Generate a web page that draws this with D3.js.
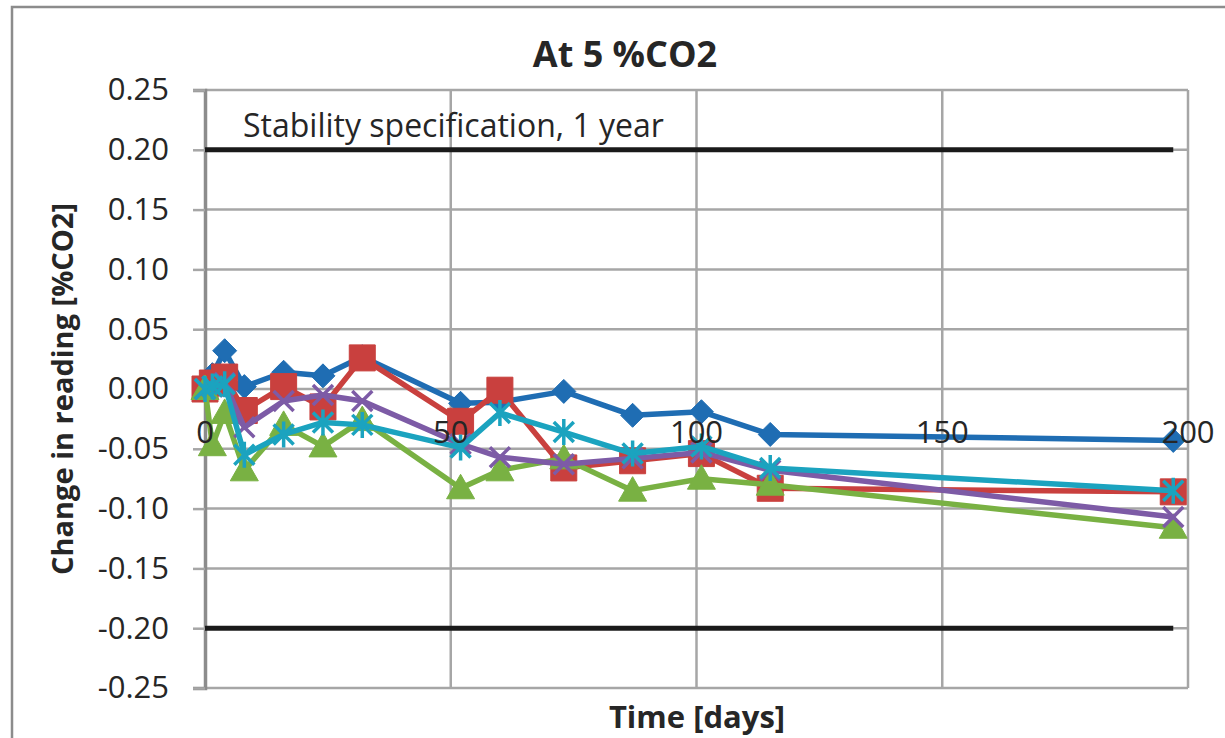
<!DOCTYPE html>
<html lang="en">
<head>
<meta charset="utf-8">
<title>At 5 %CO2</title>
<script src="https://cdn.jsdelivr.net/npm/d3@7"></script>
<style>
  body { margin: 0; background: #fff; }
  text { font-family: "Open Sans", sans-serif; fill: #262626; }
</style>
</head>
<body>
<script>
// data
var days   = [0, 1.5, 4, 8, 16, 24, 32, 52, 60, 73, 87, 101, 115, 197];
var blue   = [0, 0.012, 0.032, 0.002, 0.014, 0.011, 0.027, -0.012, -0.011, -0.002, -0.022, -0.019, -0.038, -0.043];
var red    = [0, 0.005, 0.010, -0.018, 0.002, -0.015, 0.026, -0.027, -0.001, -0.066, -0.060, -0.054, -0.083, -0.086];
var green  = [0, -0.047, -0.020, -0.068, -0.030, -0.048, -0.026, -0.083, -0.068, -0.058, -0.085, -0.075, -0.080, -0.116];
var purple = [0, 0.002, 0.005, -0.032, -0.010, -0.005, -0.010, -0.046, -0.057, -0.063, -0.058, -0.053, -0.068, -0.107];
var aqua   = [0, 0.002, 0.004, -0.055, -0.038, -0.028, -0.030, -0.049, -0.020, -0.036, -0.054, -0.048, -0.066, -0.085];
var specLimits = [0.2, -0.2];
var xTicks = [0, 50, 100, 150, 200];
var yTicks = [0.25, 0.20, 0.15, 0.10, 0.05, 0.00, -0.05, -0.10, -0.15, -0.20, -0.25];

var w = 1225, h = 738;
var svg = d3.select("body").append("svg").attr("width", w).attr("height", h);

// chart border
svg.append("rect").attr("x", 12).attr("y", 7).attr("width", 1300).attr("height", 800)
   .attr("fill", "none").attr("stroke", "#8c8c8c").attr("stroke-width", 2.5);

var x = d3.scaleLinear().domain([0, 200]).range([205, 1188]);
var y = d3.scaleLinear().domain([-0.25, 0.25]).range([688, 90]);

// gridlines
svg.selectAll("line.hgrid").data(yTicks).enter().append("line")
   .attr("x1", x(0)).attr("x2", x(200))
   .attr("y1", function(d){return y(d);}).attr("y2", function(d){return y(d);})
   .attr("stroke", "#a6a6a6").attr("stroke-width", 2.5);
svg.selectAll("line.vgrid").data(xTicks.slice(1)).enter().append("line")
   .attr("x1", function(d){return x(d);}).attr("x2", function(d){return x(d);})
   .attr("y1", y(0.25)).attr("y2", y(-0.25))
   .attr("stroke", "#a6a6a6").attr("stroke-width", 2.5);

// y axis (plain hyphen minus like the original)
var fmt = d3.format(".2f");
var yAxis = d3.axisLeft(y).tickValues(yTicks).tickSize(12).tickPadding(24)
   .tickFormat(function(d){ return fmt(d).replace("\u2212", "-"); });
var gy = svg.append("g").attr("transform", "translate(" + x(0) + ",0)").call(yAxis);
gy.select(".domain").attr("stroke", "#8c8c8c").attr("stroke-width", 3.5);
gy.selectAll(".tick line").attr("stroke", "#a6a6a6").attr("stroke-width", 2.5);
gy.selectAll(".tick text").style("font-size", "31px").style("font-family", "Open Sans").attr("fill", "#262626");

// specification lines
specLimits.forEach(function(v){
  svg.append("line").attr("x1", x(days[0])).attr("x2", x(days[days.length-1]))
     .attr("y1", y(v)).attr("y2", y(v))
     .attr("stroke", "#1a1a1a").attr("stroke-width", 5);
});
svg.append("text").attr("x", 243).attr("y", 137).style("font-size", "32px")
   .text("Stability specification, 1 year");

// markers
function diamond(s){ return "M0," + (-s) + "L" + s + ",0L0," + s + "L" + (-s) + ",0Z"; }
function square(s){ return "M" + (-s) + "," + (-s) + "h" + 2*s + "v" + 2*s + "h" + (-2*s) + "Z"; }
function triangle(s){ return "M0," + (-s) + "L" + s + "," + (s*0.75) + "L" + (-s) + "," + (s*0.75) + "Z"; }
function cross(s){ return "M" + (-s) + "," + (-s) + "L" + s + "," + s + "M" + s + "," + (-s) + "L" + (-s) + "," + s; }
function star(s){ return cross(s) + "M0," + (-s*1.3) + "L0," + (s*1.3); }

var series = [
  {vals: blue,   color: "#1f6db3", marker: diamond(12),  filled: true},
  {vals: red,    color: "#c9403e", marker: square(13),   filled: true},
  {vals: green,  color: "#79b143", marker: triangle(14), filled: true},
  {vals: purple, color: "#7d5ba6", marker: cross(10),    filled: false},
  {vals: aqua,   color: "#1ba3bf", marker: star(10),     filled: false}
];

var line = d3.line().x(function(d){return x(d[0]);}).y(function(d){return y(d[1]);});

series.forEach(function(s){
  var pts = days.map(function(d, i){ return [d, s.vals[i]]; });
  svg.append("path").datum(pts).attr("d", line)
     .attr("fill", "none").attr("stroke", s.color).attr("stroke-width", 5.5)
     .attr("stroke-linejoin", "round");
  svg.selectAll(null).data(pts).enter().append("path")
     .attr("transform", function(d){ return "translate(" + x(d[0]) + "," + y(d[1]) + ")"; })
     .attr("d", s.marker)
     .attr("fill", s.filled ? s.color : "none")
     .attr("stroke", s.color).attr("stroke-width", s.filled ? 1 : 3.5);
});

// x tick labels sit under the zero line, drawn on top of the series
svg.selectAll("text.xt").data(xTicks).enter().append("text")
   .attr("x", function(d){return x(d);}).attr("y", y(0) + 54)
   .attr("text-anchor", "middle").style("font-size", "31px")
   .text(function(d){return d;});

// titles
svg.append("text").attr("x", 625).attr("y", 67).attr("text-anchor", "middle")
   .style("font-size", "36px").style("font-weight", "bold").text("At 5 %CO2");
svg.append("text").attr("x", 697).attr("y", 728).attr("text-anchor", "middle")
   .style("font-size", "31px").style("font-weight", "bold").text("Time [days]");
svg.append("text").attr("transform", "translate(73,389) rotate(-90)").attr("text-anchor", "middle")
   .style("font-size", "29px").style("font-weight", "bold").text("Change in reading [%CO2]");
</script>
</body>
</html>
